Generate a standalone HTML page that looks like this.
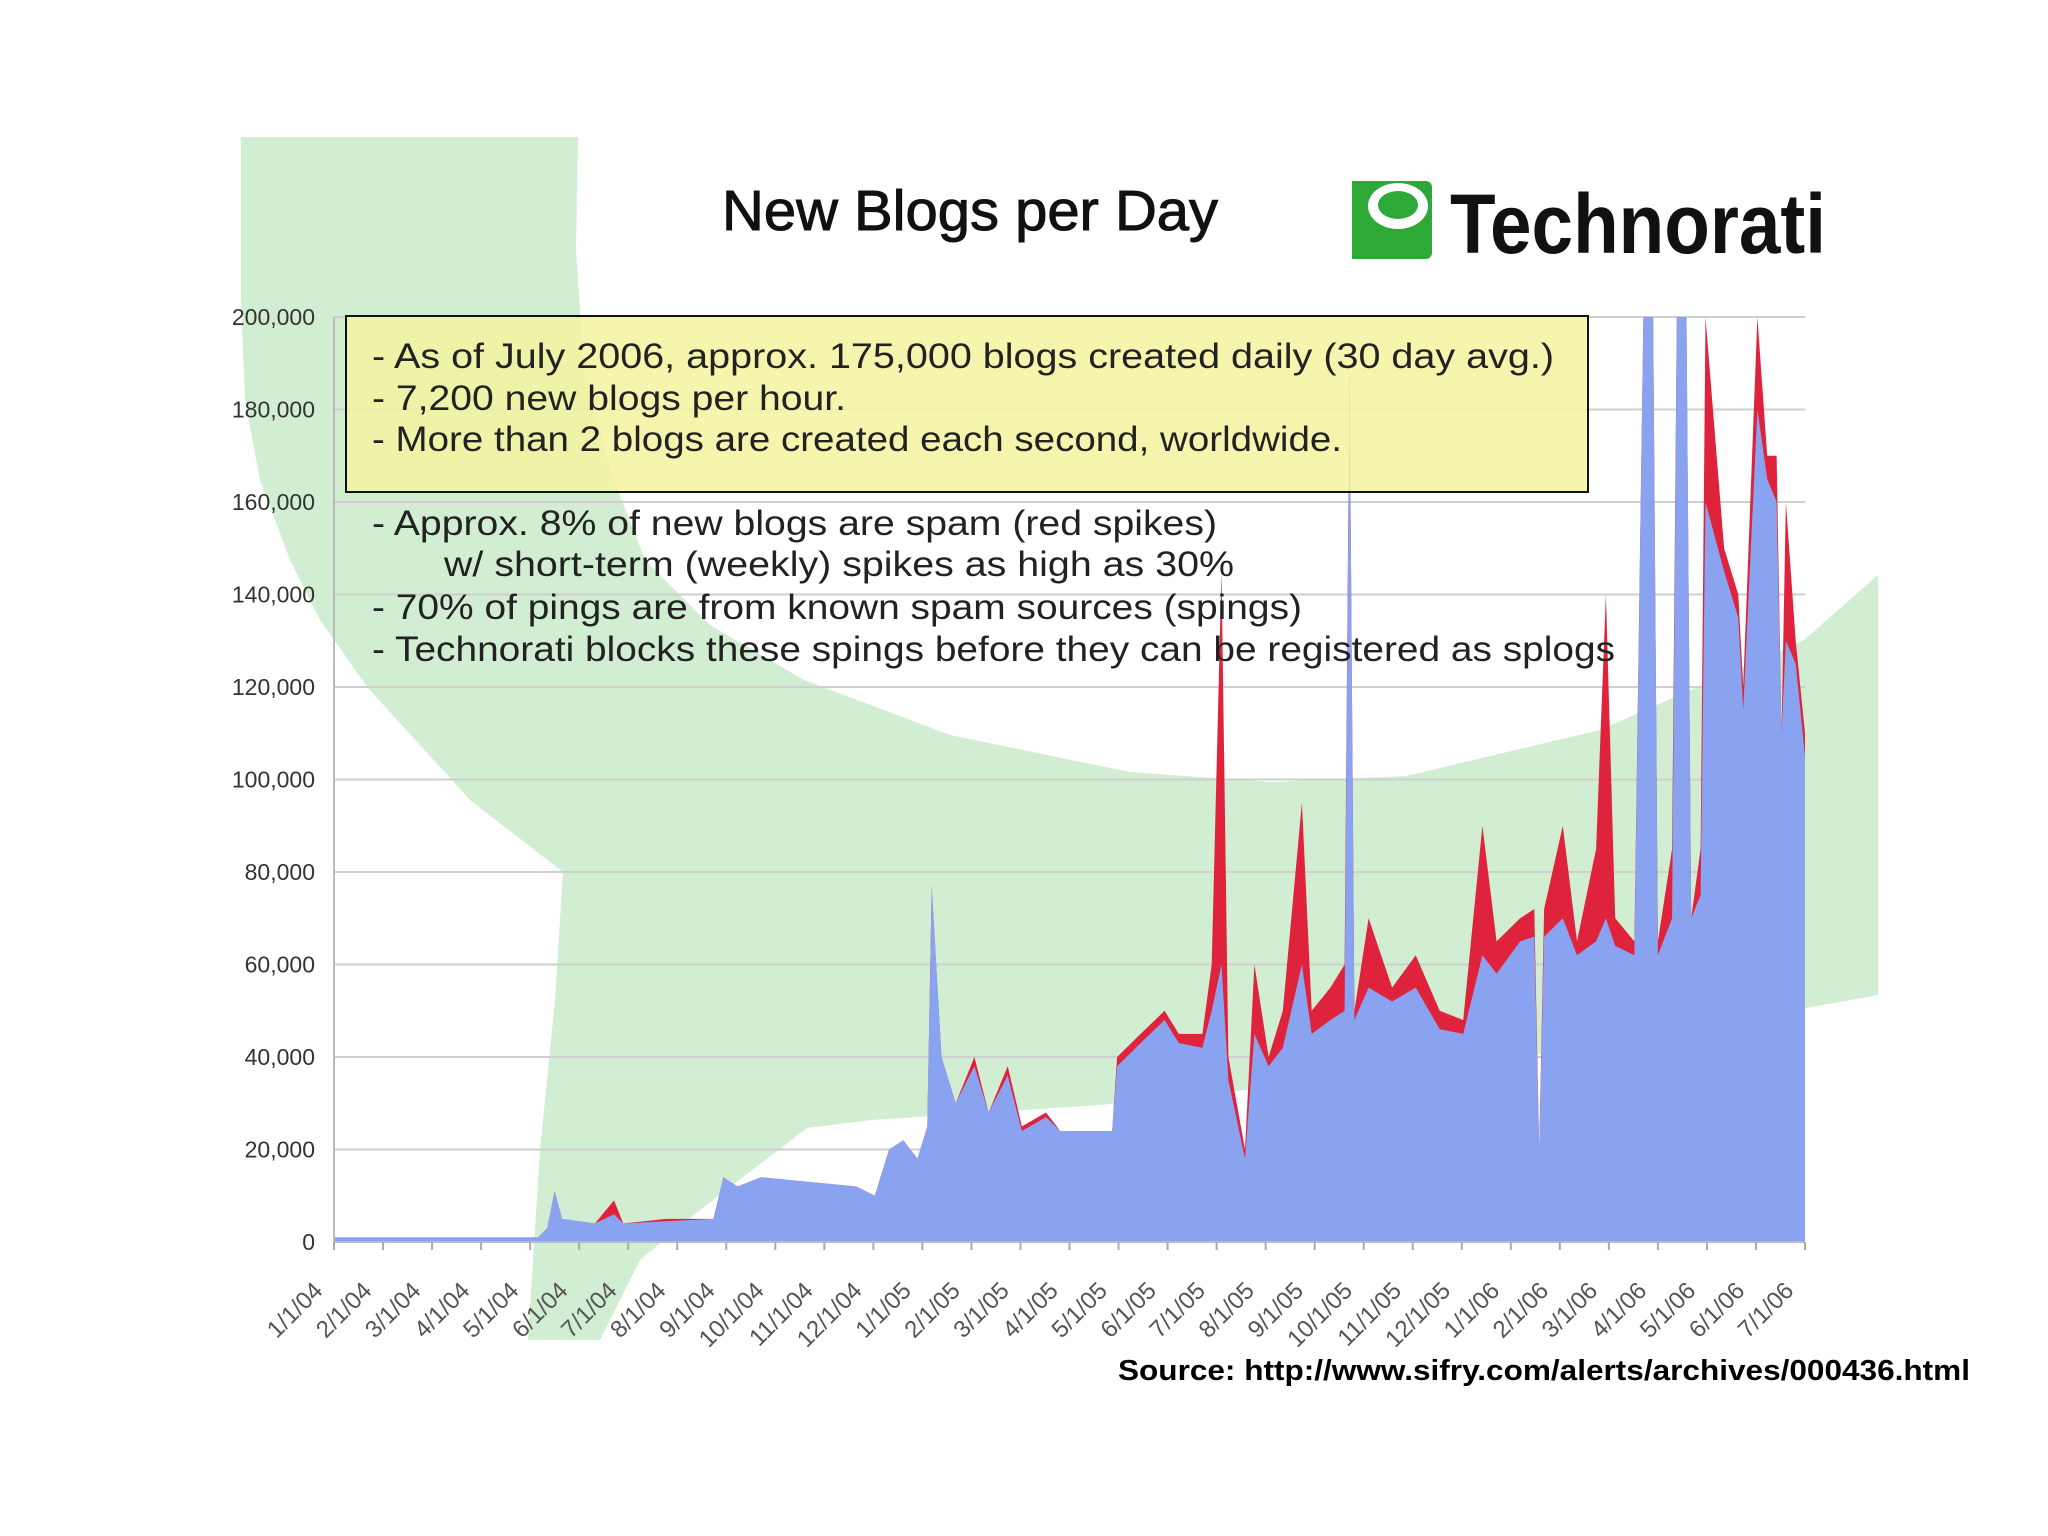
<!DOCTYPE html>
<html><head><meta charset="utf-8"><style>
body{margin:0;background:#fff;}
svg{display:block;font-family:"Liberation Sans",sans-serif;}
</style></head><body>
<svg id="chart" width="2048" height="1536" viewBox="0 0 2048 1536">
<defs>
<clipPath id="plotClip"><rect x="334" y="317" width="1471" height="925"/></clipPath>
</defs>
<path fill="#d2eed2" d="M241,137 L578,137 L576,250 L584,369 L610,470 L645,560 L710,625 L804,680 L950,735 L1130,772 L1270,782 L1406,776 L1600,730 L1804,640 L1878,575 L1878,995 L1600,1045 L1392,1075 L1100,1105 L872,1120 L807,1128 L700,1210 L640,1260 L600,1340 L528,1340 L540,1150 L555,1000 L563,872 L470,800 L368,688 L320,620 L290,560 L260,480 L245,400 L241,300 Z"/>
<g id="grid"></g>
<g id="areas" clip-path="url(#plotClip)"></g>
<g id="yaxis"></g>
<g id="xaxis"></g>
<text x="722" y="230" font-size="57" textLength="496" lengthAdjust="spacingAndGlyphs" fill="#111" stroke="#111" stroke-width="1">New Blogs per Day</text>
<g>
<rect x="1352" y="181" width="80" height="78" rx="6" fill="#2ea836"/>
<ellipse cx="1398" cy="206" rx="30" ry="23" fill="#fff"/>
<ellipse cx="1398" cy="205" rx="20" ry="14" fill="#2ea836"/>
<rect x="1352" y="181" width="14" height="78" fill="#2ea836"/>
<text x="1450" y="253" font-size="84" font-weight="bold" textLength="376" lengthAdjust="spacingAndGlyphs" fill="#111">Technorati</text>
</g>
<rect x="346" y="316" width="1242" height="176" fill="#f3f3a0" fill-opacity="0.85" stroke="#111" stroke-width="2"/>
<g font-size="35" fill="#222">
<text x="372" y="368" textLength="1182" lengthAdjust="spacingAndGlyphs">- As of July 2006, approx. 175,000 blogs created daily (30 day avg.)</text>
<text x="372" y="410" textLength="474" lengthAdjust="spacingAndGlyphs">- 7,200 new blogs per hour.</text>
<text x="372" y="451" textLength="970" lengthAdjust="spacingAndGlyphs">- More than 2 blogs are created each second, worldwide.</text>
<text x="372" y="535" textLength="845" lengthAdjust="spacingAndGlyphs">- Approx. 8% of new blogs are spam (red spikes)</text>
<text x="444" y="576" textLength="790" lengthAdjust="spacingAndGlyphs">w/ short-term (weekly) spikes as high as 30%</text>
<text x="372" y="619" textLength="930" lengthAdjust="spacingAndGlyphs">- 70% of pings are from known spam sources (spings)</text>
<text x="372" y="661" textLength="1243" lengthAdjust="spacingAndGlyphs">- Technorati blocks these spings before they can be registered as splogs</text>
</g>
<text x="1118" y="1380" font-size="29" font-weight="bold" textLength="852" lengthAdjust="spacingAndGlyphs" fill="#000">Source: http://www.sifry.com/alerts/archives/000436.html</text>
</svg>
<script>
const months = [0,4.16,4.35,4.5,4.65,5.32,5.71,5.9,6.77,7.74,7.94,8.23,8.71,9.68,10.65,11.03,11.32,11.61,11.9,12.1,12.19,12.39,12.68,13.06,13.35,13.74,14.03,14.52,14.81,15.87,15.97,16.45,16.94,17.23,17.71,17.9,18.1,18.24,18.58,18.77,19.06,19.35,19.74,19.94,20.32,20.61,20.71,20.81,21.1,21.58,22.06,22.55,23.03,23.42,23.71,24.19,24.48,24.58,24.68,25.06,25.35,25.74,25.94,26.13,26.52,26.71,26.9,27.0,27.29,27.39,27.58,27.68,27.87,27.97,28.35,28.64,28.74,29.03,29.23,29.42,29.52,29.61,29.81,30];
const totals = [1,1,3,11,5,4,9,4,5,5,14,12,14,13,12,10,20,22,18,25,77,40,30,40,28,38,25,28,24,24,40,45,50,45,45,60,145,40,20,60,40,50,95,50,55,60,190,50,70,55,62,50,48,90,65,70,72,20,72,90,65,85,140,70,65,205,205,65,85,205,205,70,85,200,150,140,120,200,170,170,110,160,130,110];
const blues = [1,1,3,11,5,4,6,4,4.5,5,14,12,14,13,12,10,20,22,18,25,77,40,30,38,28,36,24,27,24,24,38,43,48,43,42,50,60,35,18,45,38,42,60,45,48,50,190,48,55,52,55,46,45,62,58,65,66,20,66,70,62,65,70,64,62,205,205,62,70,205,205,70,75,160,145,135,115,180,165,160,110,130,125,105];
const yTicks = [0,20,40,60,80,100,120,140,160,180,200];
const xLabels = ["1/1/04","2/1/04","3/1/04","4/1/04","5/1/04","6/1/04","7/1/04","8/1/04","9/1/04","10/1/04","11/1/04","12/1/04","1/1/05","2/1/05","3/1/05","4/1/05","5/1/05","6/1/05","7/1/05","8/1/05","9/1/05","10/1/05","11/1/05","12/1/05","1/1/06","2/1/06","3/1/06","4/1/06","5/1/06","6/1/06","7/1/06"];
const NS="http://www.w3.org/2000/svg";
const X0=334,X1=1805,Y0=1242,Y1=317,MMAX=30,VMAX=200;
function xs(m){return X0+(m/MMAX)*(X1-X0);}
function ys(v){return Y0-(v/VMAX)*(Y0-Y1);}
function mk(tag,attrs,parent){const e=document.createElementNS(NS,tag);for(const k in attrs)e.setAttribute(k,attrs[k]);parent.appendChild(e);return e;}
const grid=document.getElementById('grid'),yax=document.getElementById('yaxis'),xax=document.getElementById('xaxis'),areas=document.getElementById('areas');
yTicks.forEach(t=>{
const l=mk('line',{x1:X0,x2:X1,y1:ys(t),y2:ys(t),stroke:'#cfcfcf','stroke-width':2},grid);


const tx=mk('text',{x:315,y:ys(t)+8,'text-anchor':'end','font-size':23,fill:'#333'},yax);
tx.textContent=t===0?'0':t+',000';


});
mk('line',{x1:X0,x2:X0,y1:Y1,y2:Y0,stroke:'#bbb','stroke-width':2},yax);
mk('line',{x1:X0,x2:X1,y1:Y0,y2:Y0,stroke:'#bbb','stroke-width':2},xax);
xLabels.forEach((s,i)=>{
const x=xs(i);
const tk=mk('line',{x1:x,x2:x,y1:Y0,y2:Y0+8,stroke:'#aaa','stroke-width':2},xax);


const lx=x-10,ly=Y0+50;
const tx=mk('text',{x:lx,y:ly,'text-anchor':'end','font-size':24,fill:'#555',transform:`rotate(-45 ${lx} ${ly})`},xax);
tx.textContent=s;


});
function areaPath(vals){let d=`M${xs(months[0])},${Y0}`;months.forEach((m,i)=>{d+=` L${xs(m).toFixed(1)},${ys(vals[i]).toFixed(1)}`;});d+=` L${xs(months[months.length-1])},${Y0} Z`;return d;}
const red=mk('path',{d:areaPath(totals),fill:'#e0233c'},areas);


const blue=mk('path',{d:areaPath(blues),fill:'#8aa3f0'},areas);


</script>
</body></html>
